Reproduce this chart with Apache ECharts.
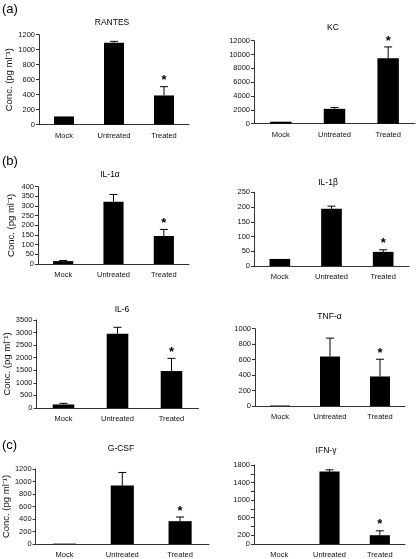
<!DOCTYPE html>
<html><head><meta charset="utf-8">
<script src="https://cdn.jsdelivr.net/npm/echarts@6/dist/echarts.min.js"></script>
<style>html,body{margin:0;padding:0;background:#fff}#c{width:416px;height:559px}</style>
</head><body><div id="c"></div>
<script>
// ---------- data ----------
const categories = ['Mock', 'Untreated', 'Treated'];
const panelNames = ['RANTES', 'KC', 'IL-1α', 'IL-1β', 'IL-6', 'TNF-α', 'G-CSF', 'IFN-γ'];
const rantesValues = [110, 1093, 390];   const rantesErrTop = [null, 1111, 507];
const kcValues     = [290, 2150, 9450];  const kcErrTop     = [null, 2350, 11100];
const il1aValues   = [15, 322, 145];     const il1aErrTop   = [18, 360, 179];
const il1bValues   = [24, 194, 48];      const il1bErrTop   = [null, 203, 55];
const il6Values    = [140, 2956, 1470];  const il6ErrTop    = [186, 3210, 1975];
const tnfValues    = [6, 640, 382];      const tnfErrTop    = [null, 878, 605];
const gcsfValues   = [6, 935, 365];      const gcsfErrTop   = [null, 1145, 432];
const ifnValues    = [0, 1650, 200];     const ifnErrTop    = [null, 1690, 300];
const significant  = [false, false, true];
const yMax  = [1200, 12000, 400, 250, 3500, 1000, 1200, 1800];
const yStep = [200, 2000, 50, 50, 500, 200, 200, 200];
const ifnTickLabels = [0, 200, 600, 1000, 1400, 1800];
const sectionLabels = ['(a)', '(b)', '(c)'];
const yAxisName = 'Conc. (pg ml\u207B\u00B9)';

const allValues = [rantesValues, kcValues, il1aValues, il1bValues, il6Values, tnfValues, gcsfValues, ifnValues];
const allErr = [rantesErrTop, kcErrTop, il1aErrTop, il1bErrTop, il6ErrTop, tnfErrTop, gcsfErrTop, ifnErrTop];

// ---------- layout ----------
const grids = [
  {left: 39,   top: 34.7,  width: 150, height: 90},
  {left: 254,  top: 40.7,  width: 161, height: 83},
  {left: 38,   top: 186.7, width: 151, height: 77.3},
  {left: 254,  top: 192.3, width: 155, height: 73.7},
  {left: 36.5, top: 320,   width: 162, height: 88},
  {left: 255,  top: 328.7, width: 150, height: 77.3},
  {left: 35,   top: 469,   width: 174, height: 75},
  {left: 254,  top: 465,   width: 151, height: 79.5}
];
const titlePos = [[112, 22.7], [333, 28], [110, 175], [328, 183], [122, 310], [329.5, 317], [121, 449], [326, 451]];
const sectionPos = [[2, 10], [2, 162], [2, 446]];
const FONT = '"Liberation Sans", Arial, sans-serif';

function renderErr(params, api) {
  const x = api.value(0), v = api.value(1), e = api.value(2), s = api.value(3);
  const base = api.coord([x, v]);
  const children = [];
  let topY = base[1];
  if (e > v) {
    const t = api.coord([x, e]);
    topY = t[1];
    children.push({type: 'line', shape: {x1: base[0], y1: base[1], x2: t[0], y2: t[1]}, style: {stroke: '#000', lineWidth: 1}});
    children.push({type: 'line', shape: {x1: t[0] - 4, y1: t[1], x2: t[0] + 4, y2: t[1]}, style: {stroke: '#000', lineWidth: 1}});
  }
  if (s) {
    children.push({type: 'text', style: {text: '*', x: base[0], y: topY - 6, fill: '#000',
      font: 'bold 13px ' + FONT, align: 'center', verticalAlign: 'middle'}});
  }
  return {type: 'group', children};
}

const option = {
  animation: false,
  backgroundColor: '#fff',
  title: [], grid: [], xAxis: [], yAxis: [], series: [],
  graphic: sectionLabels.map((t, i) => ({
    type: 'text', left: sectionPos[i][0], top: sectionPos[i][1] - 7,
    style: {text: t, font: '13px ' + FONT, fill: '#000'}
  }))
};

for (let i = 0; i < 8; i++) {
  option.title.push({
    text: panelNames[i], left: titlePos[i][0], top: titlePos[i][1] - 5, textAlign: 'center', padding: 0,
    textStyle: {fontFamily: FONT, fontSize: 8.5, fontWeight: 'normal', color: '#000'}
  });
  option.grid.push(Object.assign({containLabel: false}, grids[i]));
  option.xAxis.push({
    type: 'category', gridIndex: i, data: categories,
    axisLine: {lineStyle: {color: '#333', width: 1}},
    axisTick: {length: 3, lineStyle: {color: '#333'}},
    axisLabel: {fontFamily: FONT, fontSize: 7.5, color: '#111', margin: 7, interval: 0}
  });
  const isLeft = i % 2 === 0;
  const y = {
    type: 'value', gridIndex: i, min: 0, max: yMax[i], interval: yStep[i],
    axisLine: {show: true, lineStyle: {color: '#333', width: 1}},
    axisTick: {show: true, length: 3, lineStyle: {color: '#333'}},
    splitLine: {show: false},
    axisLabel: {fontFamily: FONT, fontSize: 7.5, color: '#111', margin: 4, formatter: v => String(v)}
  };
  if (i === 7) y.axisLabel.formatter = v => ifnTickLabels.indexOf(v) >= 0 ? String(v) : '';
  if (isLeft) {
    Object.assign(y, {name: yAxisName, nameLocation: 'middle', nameRotate: 90, nameGap: 22,
      nameTextStyle: {fontFamily: FONT, fontSize: 9.5, color: '#111'}});
  }
  option.yAxis.push(y);
  option.series.push({
    type: 'bar', xAxisIndex: i, yAxisIndex: i, data: allValues[i], barWidth: '40%',
    itemStyle: {color: '#000'}
  });
  option.series.push({
    type: 'custom', xAxisIndex: i, yAxisIndex: i, renderItem: renderErr, z: 5,
    data: allValues[i].map((v, k) => [k, v, allErr[i][k] == null ? v : allErr[i][k], significant[k] ? 1 : 0])
  });
}

const chart = echarts.init(document.getElementById('c'), null, {renderer: 'canvas'});
chart.setOption(option);
</script></body></html>
